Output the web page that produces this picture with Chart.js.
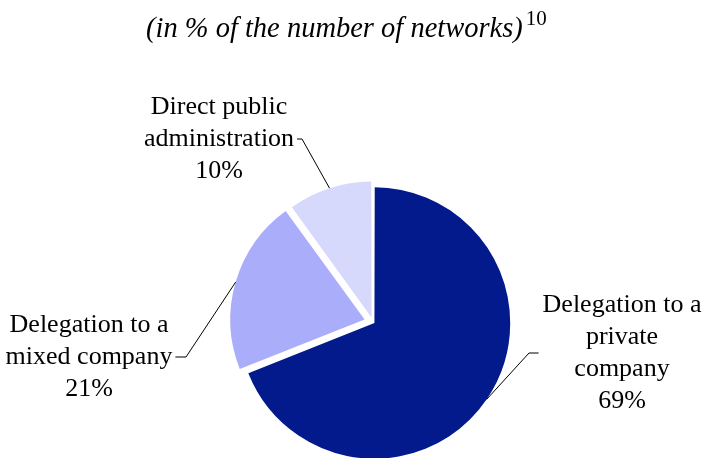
<!DOCTYPE html>
<html>
<head>
<meta charset="utf-8">
<script src="https://cdn.jsdelivr.net/npm/chart.js@4"></script>
<style>
  html, body { margin: 0; padding: 0; background: #fff; }
  #wrap { position: relative; width: 704px; height: 458px; overflow: hidden; }
  #title {
    position: absolute; left: 146px; top: 1px; text-align: left;
    font-family: "Liberation Serif", "Times New Roman", serif; font-style: italic;
    font-size: 28.5px; line-height: 36px; color: #000; white-space: nowrap;
  }
  #title sup { font-style: normal; font-size: 21px; position: relative; top: -1px; margin-left: 3px; }
</style>
</head>
<body>
<div id="wrap">
  <div id="title">(in % of the number of networks)<sup>10</sup></div>
  <canvas id="pie" width="704" height="458"></canvas>
</div>
<script>
// Données
const categories = ['Delegation to a private company', 'Delegation to a mixed company', 'Direct public administration'];
const shares = [69, 21, 10];
const labelLines = [
    ['Delegation to a', 'private', 'company'],
    ['Delegation to a', 'mixed company'],
    ['Direct public', 'administration']
];
const sliceColors = ['#021A8C', '#AAAEFA', '#D6D8FC'];

// Position des étiquettes (centre x, y de la première ligne, x du coude de la ligne de rappel)
const labelPos = [
    { x: 622, y: 305, elbowX: 529, side: 'left' },
    { x: 89, y: 325, elbowX: 186, side: 'right' },
    { x: 219, y: 107, elbowX: 302, side: 'right' }
];
const lineHeight = 32;

const calloutPlugin = {
    id: 'callouts',
    afterDatasetsDraw(chart) {
        const ctx = chart.ctx;
        const meta = chart.getDatasetMeta(0);
        ctx.save();
        ctx.font = '26px "Liberation Serif", "Times New Roman", serif';
        ctx.fillStyle = '#000';
        ctx.strokeStyle = '#000';
        ctx.lineWidth = 1;
        ctx.textAlign = 'center';
        ctx.textBaseline = 'middle';
        meta.data.forEach((arc, i) => {
            const p = arc.getProps(['x', 'y', 'startAngle', 'endAngle', 'outerRadius', 'circumference'], true);
            const mid = (p.startAngle + p.endAngle) / 2;
            // même décalage que ArcElement.draw
            const off = (arc.options.offset || 0) / 4;
            const fix = 1 - Math.sin(Math.min(Math.PI, p.circumference));
            const shift = off + off * fix;
            const ex = p.x + Math.cos(mid) * (p.outerRadius + shift);
            const ey = p.y + Math.sin(mid) * (p.outerRadius + shift);
            const pos = labelPos[i];
            const lines = labelLines[i].concat([shares[i] + '%']);
            lines.forEach((t, k) => ctx.fillText(t, pos.x, pos.y + k * lineHeight));
            // ligne de rappel, attachée au milieu du bloc de texte
            const ly = pos.y + (lines.length - 1) * lineHeight / 2;
            const w = Math.max(...lines.map(t => ctx.measureText(t).width));
            const tx = pos.side === 'left' ? pos.x - w / 2 - 4 : pos.x + w / 2 + 3;
            ctx.beginPath();
            ctx.moveTo(tx, ly);
            ctx.lineTo(pos.elbowX, ly);
            ctx.lineTo(ex, ey);
            ctx.stroke();
        });
        ctx.restore();
    }
};

new Chart(document.getElementById('pie').getContext('2d'), {
    type: 'pie',
    data: {
        labels: categories,
        datasets: [{
            data: shares,
            backgroundColor: sliceColors,
            borderWidth: 0,
            offset: [7, 35, 19],
            radius: 134,
            clip: false
        }]
    },
    options: {
        responsive: false,
        animation: false,
        layout: { padding: { left: 42, right: 0, top: 186, bottom: 0 } },
        plugins: {
            legend: { display: false },
            tooltip: { enabled: false },
            title: { display: false }
        }
    },
    plugins: [calloutPlugin]
});
</script>
</body>
</html>
